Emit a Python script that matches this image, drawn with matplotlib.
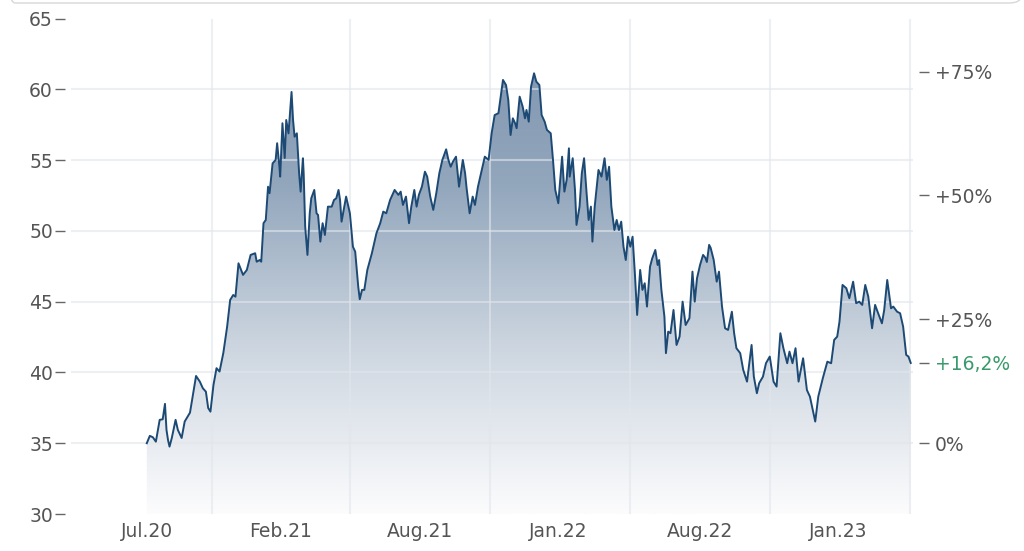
import numpy as np
import matplotlib.pyplot as plt
from matplotlib.colors import LinearSegmentedColormap
from matplotlib.patches import FancyBboxPatch

# trading days since the start of the chart and closing prices
days = [0, 4, 8, 12, 17, 21, 24, 26, 28, 30, 33, 38, 41, 46, 50, 57, 65, 70, 74, 78,
        81, 84, 88, 92, 96, 101, 106, 110, 114, 117, 121, 127, 132, 137, 143, 145, 149, 151, 154, 157,
        160, 162, 166, 170, 172, 175, 176, 179, 182, 184, 187, 191, 193, 195, 198, 201, 203, 206, 207, 209,
        212, 215, 217, 221, 224, 226, 229, 232, 235, 239, 244, 247, 250, 253, 255, 257, 259, 263, 268, 272,
        275, 279, 281, 284, 287, 291, 297, 303, 308, 312, 316, 321, 327, 332, 335, 338, 342, 346, 349, 353,
        356, 359, 363, 367, 370, 374, 378, 382, 386, 390, 395, 398, 401, 404, 408, 412, 417, 420, 422, 426,
        430, 433, 437, 442, 446, 451, 455, 459, 464, 470, 474, 477, 480, 483, 486, 488, 492, 496, 499, 501,
        504, 507, 511, 514, 518, 521, 525, 528, 533, 536, 539, 543, 548, 551, 554, 557, 558, 562, 565, 567,
        571, 574, 577, 580, 583, 586, 588, 591, 596, 600, 604, 607, 610, 613, 617, 620, 623, 626, 629, 632,
        635, 638, 641, 644, 647, 651, 654, 657, 660, 664, 667, 671, 674, 676, 679, 683, 685, 688, 691, 695,
        699, 703, 707, 711, 716, 720, 723, 726, 730, 734, 737, 739, 742, 744, 748, 752, 755, 759, 763, 767,
        772, 775, 778, 783, 787, 792, 795, 798, 801, 805, 808, 813, 817, 822, 827, 831, 836, 840, 845, 848,
        852, 856, 860, 866, 871, 875, 882, 886, 892, 898, 903, 907, 911, 914, 918, 923, 927, 932, 936, 940,
        944, 948, 952, 957, 961, 965, 970, 973, 977, 982, 985, 990, 994, 998, 1002, 1005, 1008]

prices = [35.00, 35.52, 35.42, 35.11, 36.65, 36.69, 37.78, 35.94, 35.23, 34.76, 35.37, 36.65, 35.94, 35.37, 36.53, 37.16, 39.75, 39.35, 38.88, 38.64,
          37.49, 37.23, 39.12, 40.30, 40.06, 41.38, 43.23, 45.12, 45.47, 45.35, 47.71, 46.89, 47.24, 48.30, 48.42, 47.82, 47.94, 47.82, 50.54, 50.77,
          53.12, 52.66, 54.77, 55.01, 56.19, 54.53, 53.83, 57.60, 55.15, 57.83, 56.89, 59.81, 57.83, 56.65, 56.89, 54.07, 52.77, 55.13, 54.07, 50.30,
          48.30, 51.24, 52.30, 52.89, 51.24, 51.12, 49.24, 50.54, 49.71, 51.71, 51.71, 52.18, 52.30, 52.89, 52.18, 50.65, 51.24, 52.42, 51.24, 48.88,
          48.53, 46.06, 45.17, 45.83, 45.83, 47.24, 48.42, 49.83, 50.54, 51.36, 51.24, 52.18, 52.89, 52.54, 52.77, 51.83, 52.42, 50.54, 51.71, 52.89,
          51.71, 52.54, 53.12, 54.18, 53.83, 52.42, 51.48, 52.66, 54.07, 55.01, 55.76, 55.01, 54.53, 54.89, 55.24, 53.12, 55.01, 54.07, 53.01, 51.24,
          52.42, 51.83, 53.12, 54.30, 55.24, 55.01, 56.89, 58.18, 58.31, 60.66, 60.30, 59.24, 56.77, 57.95, 57.60, 57.25, 59.48, 58.77, 57.95, 58.54,
          57.71, 60.18, 61.13, 60.54, 60.30, 58.18, 57.71, 57.13, 56.89, 55.01, 52.89, 51.95, 55.24, 52.77, 53.60, 55.83, 53.83, 55.13, 52.89, 50.42,
          51.71, 54.07, 55.13, 52.89, 50.77, 51.71, 49.24, 51.71, 54.30, 53.83, 55.13, 53.60, 54.53, 51.71, 50.06, 50.77, 50.06, 50.65, 48.88, 47.94,
          49.59, 48.88, 49.59, 47.01, 44.06, 47.24, 45.83, 46.30, 44.65, 47.47, 48.07, 48.65, 47.59, 47.94, 45.83, 43.94, 41.36, 42.88, 42.77, 44.41,
          41.94, 42.53, 45.00, 43.35, 43.83, 47.12, 45.00, 46.65, 47.59, 48.30, 48.10, 47.80, 49.01, 48.80, 47.95, 46.41, 47.12, 44.65, 43.12, 43.00,
          44.29, 42.77, 41.71, 41.36, 40.18, 39.35, 40.65, 41.94, 39.70, 38.53, 39.24, 39.70, 40.65, 41.12, 39.35, 39.00, 42.77, 41.71, 40.65, 41.47,
          40.65, 41.71, 39.35, 41.00, 38.76, 38.29, 36.53, 38.29, 39.59, 40.76, 40.65, 42.30, 42.53, 43.59, 46.18, 45.95, 45.24, 46.41, 44.89, 45.00,
          44.77, 46.18, 45.35, 43.12, 44.77, 44.18, 43.47, 44.41, 46.53, 44.53, 44.65, 44.29, 44.18, 43.23, 41.24, 41.12, 40.67]

x_label_days = [0, 176, 360, 543, 730, 912]
x_labels = ['Jul.20', 'Feb.21', 'Aug.21', 'Jan.22', 'Aug.22', 'Jan.23']
x_grid_days = [86, 268, 453, 638, 822, 1007]
y_ticks = [30, 35, 40, 45, 50, 55, 60, 65]
pct_ticks = [0, 25, 50, 75]

base = prices[0]
last_pct = (prices[-1] / base - 1) * 100
last_label = ('+%.1f%%' % last_pct).replace('.', ',')

fig = plt.figure(figsize=(10.24, 5.51), dpi=100)
ax = fig.add_axes([71 / 1024, 1 - 514 / 551, (913 - 71) / 1024, (514 - 18.5) / 551])

line_color = '#1d4a75'
grid_color = '#e2e6ec'
text_color = '#555555'

# gradient fill under the price line
x0, x1 = -100, 1011
y0, y1 = 30, 65
cmap = LinearSegmentedColormap.from_list('fade', ['#fcfcfd', '#cdd6e0', '#92a6bc', '#7d94ae'])
grad = np.linspace(0, 1, 256).reshape(-1, 1)
img = ax.imshow(grad, extent=[x0, x1, y0, y1], origin='lower', aspect='auto',
                cmap=cmap, zorder=1)
poly = ax.fill_between(days, prices, y0, color='none', lw=0)
img.set_clip_path(poly.get_paths()[0], transform=ax.transData)

for v in y_ticks[1:-1]:
    ax.axhline(v, color=grid_color, lw=1.5, alpha=0.6, zorder=2)
for d in x_grid_days:
    ax.axvline(d, color=grid_color, lw=1.5, alpha=0.6, zorder=2)

ax.plot(days, prices, color=line_color, lw=1.4, zorder=3)

ax.set_xlim(x0, x1)
ax.set_ylim(y0, y1)
ax.set_yticks(y_ticks)
ax.set_yticklabels([str(v) for v in y_ticks])
ax.set_xticks(x_label_days)
ax.set_xticklabels(x_labels)
ax.tick_params(axis='x', length=0, pad=6, labelsize=13.5, labelcolor=text_color)
ax.tick_params(axis='y', direction='out', length=7, width=1, color='#666666',
               pad=2, labelsize=13.5, labelcolor=text_color)
for s in ax.spines.values():
    s.set_visible(False)
ax.spines['left'].set_position(('outward', 4))

# right axis with percentage change against the first close
ax2 = ax.twinx()
ax2.set_ylim(y0, y1)
r_ticks = [base * (1 + p / 100) for p in pct_ticks] + [prices[-1]]
r_labels = ['+%d%%' % p if p > 0 else '%d%%' % p for p in pct_ticks]
r_labels.append(last_label)
ax2.set_yticks(r_ticks)
ax2.set_yticklabels(r_labels)
ax2.tick_params(axis='y', direction='out', length=7, width=1, color='#666666',
                pad=5, labelsize=13.5, labelcolor=text_color)
for s in ax2.spines.values():
    s.set_visible(False)
ax2.spines['right'].set_position(('outward', 4))

fig.canvas.draw()
for tick in ax2.yaxis.get_major_ticks():
    if tick.label2.get_text() == last_label:
        tick.label2.set_color('#3a9a6c')

# thin rounded frame edge of the card above the chart
frame = FancyBboxPatch((3 / 1024, 1 - 3 / 551), 1018 / 1024, 0.2,
                       boxstyle='round,pad=0,rounding_size=0.012',
                       transform=fig.transFigure, fill=False, ec='#d8d8d8', lw=1,
                       clip_on=False)
fig.patches.append(frame)

fig.savefig('out.png', dpi=100)
